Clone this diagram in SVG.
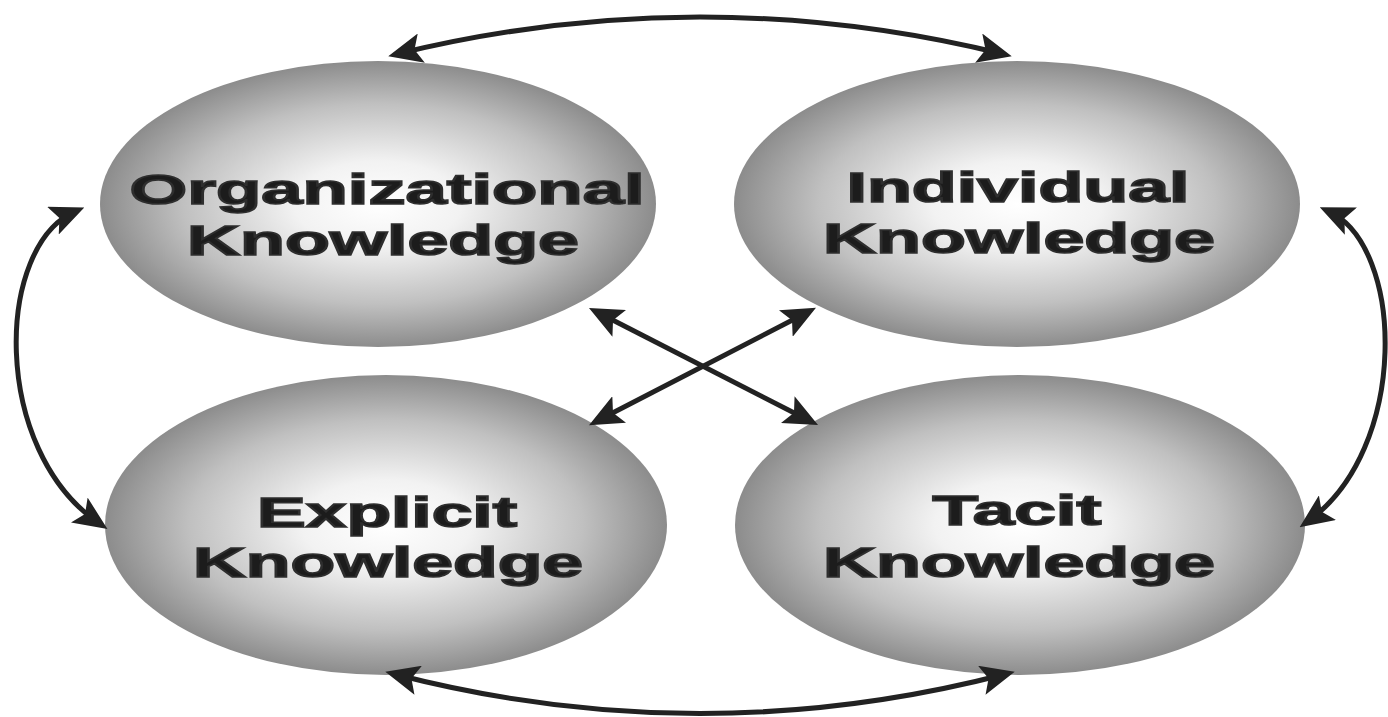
<svg xmlns="http://www.w3.org/2000/svg" width="1388" height="717" viewBox="0 0 1388 717">
  <defs>
    <radialGradient id="grad" cx="0.5" cy="0.5" r="0.5" gradientUnits="objectBoundingBox">
      <stop offset="0" stop-color="#ffffff"/>
      <stop offset="0.3" stop-color="#f2f2f2"/>
      <stop offset="0.7" stop-color="#c0c0c0"/>
      <stop offset="1" stop-color="#8c8c8c"/>
    </radialGradient>
    <marker id="ah" viewBox="0 0 34 30" markerWidth="34" markerHeight="30" refX="25" refY="15" orient="auto-start-reverse" markerUnits="userSpaceOnUse">
      <path d="M0,0 L34,15 L0,30 L7,15 Z" fill="#222"/>
    </marker>
  </defs>
  <style>
    .lbl { font-family: "Liberation Sans", Arial, sans-serif; font-weight: bold; font-size: 42px; fill: #1c1c1c; stroke: #2e2e2e; stroke-width: 1.6; text-anchor: middle; }
    .conn path { fill: none; stroke: #222; stroke-width: 5; }
  </style>
  <rect width="1388" height="717" fill="#ffffff"/>
  <g id="node-organizational">
    <ellipse cx="378" cy="204" rx="278" ry="143" fill="url(#grad)"/>
    <text class="lbl" x="387" y="204" textLength="515" lengthAdjust="spacingAndGlyphs">Organizational</text>
    <text class="lbl" x="383" y="255" textLength="392" lengthAdjust="spacingAndGlyphs">Knowledge</text>
  </g>
  <g id="node-individual">
    <ellipse cx="1017" cy="204" rx="283" ry="143" fill="url(#grad)"/>
    <text class="lbl" x="1018" y="202" textLength="343" lengthAdjust="spacingAndGlyphs">Individual</text>
    <text class="lbl" x="1019" y="253" textLength="392" lengthAdjust="spacingAndGlyphs">Knowledge</text>
  </g>
  <g id="node-explicit">
    <ellipse cx="386" cy="525" rx="281" ry="150" fill="url(#grad)"/>
    <text class="lbl" x="387" y="527" textLength="260" lengthAdjust="spacingAndGlyphs">Explicit</text>
    <text class="lbl" x="388" y="577" textLength="390" lengthAdjust="spacingAndGlyphs">Knowledge</text>
  </g>
  <g id="node-tacit">
    <ellipse cx="1020" cy="525" rx="285" ry="150" fill="url(#grad)"/>
    <text class="lbl" x="1017" y="525" textLength="169" lengthAdjust="spacingAndGlyphs">Tacit</text>
    <text class="lbl" x="1019" y="577" textLength="392" lengthAdjust="spacingAndGlyphs">Knowledge</text>
  </g>
  <g id="connectors" class="conn">
    <path d="M 397 54 Q 700 -20 1003 54" marker-start="url(#ah)" marker-end="url(#ah)"/>
    <path d="M 394 674 Q 700 753 1006 674" marker-start="url(#ah)" marker-end="url(#ah)"/>
    <path d="M 76 211 C -5 245, -10 450, 100 524" marker-start="url(#ah)" marker-end="url(#ah)"/>
    <path d="M 1328 211 C 1405 245, 1410 450, 1307 522" marker-start="url(#ah)" marker-end="url(#ah)"/>
    <path d="M 597 312 L 810 421" marker-start="url(#ah)" marker-end="url(#ah)"/>
    <path d="M 808 312 L 597 421" marker-start="url(#ah)" marker-end="url(#ah)"/>
  </g>
</svg>
